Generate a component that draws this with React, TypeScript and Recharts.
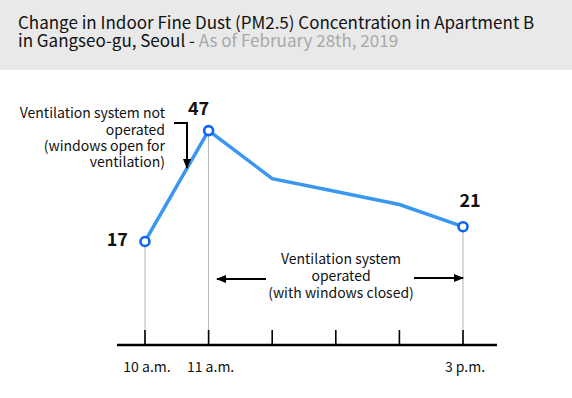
import React from 'react'
import { LineChart, Line, XAxis, YAxis, ReferenceLine, LabelList } from 'recharts'

const hours = [10, 11, 12, 13, 14, 15]
const pm25 = [17, 47, 34, 30.5, 27, 21]
const tickLabels = ['10 a.m.', '11 a.m.', '', '', '', '3 p.m.']
const markedHours = [10, 11, 15]

const data = hours.map((h, i) => ({ hour: h, pm: pm25[i] }))

const FONT = '"Noto Sans CJK KR", "Noto Sans", sans-serif'
const LINE_BLUE = '#3a97f0'
const DOT_BLUE = '#0a66f2'

function HourTick(props: any) {
  const { x, y, index } = props
  return (
    <g>
      <line x1={x} x2={x} y1={y - 15} y2={y} stroke="#000" strokeWidth={1.6} />
      <text x={x + 2} y={y + 27} textAnchor="middle" fill="#111" style={{ fontFamily: FONT, fontSize: 14 }}>
        {tickLabels[index]}
      </text>
    </g>
  )
}

function renderDot(props: any) {
  const { cx, cy, index } = props
  if (!markedHours.includes(hours[index])) return <g key={index} />
  return (
    <circle key={index} cx={cx} cy={cy} r={4.5} fill="#fff" stroke={DOT_BLUE} strokeWidth={2.6} />
  )
}

// value labels beside the three marked points
function renderValue(props: any) {
  const { x, y, index, value } = props
  if (!markedHours.includes(hours[index])) return null
  let tx = x
  let ty = y
  let anchor: 'start' | 'middle' | 'end' = 'middle'
  if (index === 0) {
    tx = x - 17
    ty = y + 5
    anchor = 'end'
  } else if (index === 1) {
    tx = x - 10
    ty = y - 16
  } else {
    tx = x + 7
    ty = y - 20
  }
  return (
    <text key={index} x={tx} y={ty} textAnchor={anchor} fill="#111" style={{ fontFamily: FONT, fontSize: 18, fontWeight: 700 }}>
      {value}
    </text>
  )
}

export default function App() {
  return (
    <div style={{ position: 'absolute', left: 0, top: 0, width: 572, height: 398, background: '#fff', fontFamily: FONT }}>
      <div style={{ position: 'absolute', left: 0, top: 0, width: 572, height: 70, background: '#e9e9e9' }}>
        <div style={{ position: 'absolute', left: 18, top: 13, fontSize: 17, lineHeight: '17.5px', color: '#111', whiteSpace: 'nowrap' }}>
          <div>Change in Indoor Fine Dust (PM2.5) Concentration in Apartment B</div>
          <div>
            in Gangseo-gu, Seoul - <span style={{ color: '#a8a8a8' }}>As of February 28th, 2019</span>
          </div>
        </div>
      </div>

      <div style={{ position: 'absolute', left: 0, top: 0 }}>
        <LineChart width={572} height={398} data={data} margin={{ top: 101, right: 75, bottom: 13, left: 117 }}>
          <XAxis
            dataKey="hour"
            type="category"
            padding={{ left: 28, right: 34 }}
            axisLine={{ stroke: '#000', strokeWidth: 2.6 }}
            tickLine={false}
            tickSize={0}
            tickMargin={0}
            interval={0}
            height={40}
            tick={<HourTick />}
          />
          <YAxis hide type="number" domain={[-11, 55]} />
          {markedHours.map((h) => (
            <ReferenceLine
              key={h}
              segment={[
                { x: h, y: pm25[hours.indexOf(h)] },
                { x: h, y: -11 }
              ]}
              stroke="#b3b3b3"
              strokeWidth={1}
            />
          ))}
          <Line
            type="linear"
            dataKey="pm"
            stroke={LINE_BLUE}
            strokeWidth={3.5}
            dot={renderDot}
            activeDot={false}
            isAnimationActive={false}
          >
            <LabelList dataKey="pm" content={renderValue} />
          </Line>
        </LineChart>
      </div>

      <svg width={572} height={398} style={{ position: 'absolute', left: 0, top: 0, pointerEvents: 'none' }}>
        <defs>
          <marker id="head" viewBox="0 0 10 8" refX="9" refY="4" markerWidth="10" markerHeight="8" markerUnits="userSpaceOnUse" orient="auto">
            <path d="M0,0 L10,4 L0,8 z" fill="#000" />
          </marker>
        </defs>
        <g style={{ fontFamily: FONT, fontSize: 14 }} fill="#111">
          <text textAnchor="end" x={165}>
            <tspan x={165} y={118}>Ventilation system not</tspan>
            <tspan x={165} y={134.5}>operated</tspan>
            <tspan x={165} y={151}>(windows open for</tspan>
            <tspan x={165} y={167}>ventilation)</tspan>
          </text>
          <text textAnchor="middle" x={341}>
            <tspan x={341} y={264}>Ventilation system</tspan>
            <tspan x={341} y={281}>operated</tspan>
            <tspan x={341} y={298}>(with windows closed)</tspan>
          </text>
        </g>
        <path d="M174,123 H187 V168" fill="none" stroke="#000" strokeWidth={2} markerEnd="url(#head)" />
        <line x1={266} y1={279} x2={217} y2={279} stroke="#000" strokeWidth={2} markerEnd="url(#head)" />
        <line x1={414} y1={278} x2={463} y2={278} stroke="#000" strokeWidth={2} markerEnd="url(#head)" />
      </svg>
    </div>
  )
}
